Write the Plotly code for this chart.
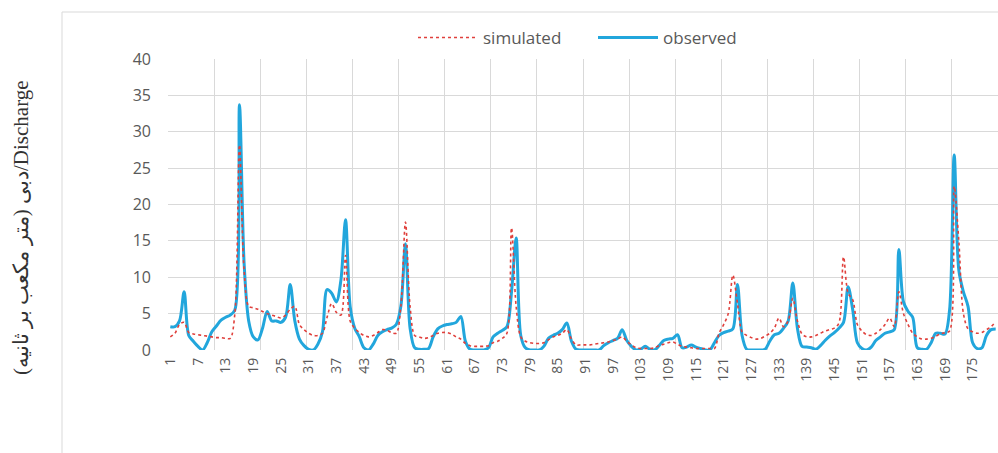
import plotly.graph_objects as go

# ---- data -------------------------------------------------------------
days = list(range(1, 181))

observed = [
    3.2, 3.2, 4.0, 8.0, 2.0, 1.2, 0.5, 0.0, 1.0, 2.5,
    3.3, 4.1, 4.5, 4.8, 5.5, 33.7, 12.0, 4.0, 1.8, 1.4,
    3.0, 5.3, 4.0, 4.0, 3.8, 4.5, 9.0, 4.0, 1.5, 0.6,
    0.1, 0.0, 0.8, 2.5, 8.3, 7.8, 6.6, 9.6, 17.9, 6.0,
    3.0, 1.8, 0.3, 0.0, 0.8, 2.0, 2.5, 2.8, 3.0, 3.5,
    6.0, 14.6, 3.0, 0.3, 0.1, 0.1, 0.2, 1.8, 2.9, 3.3,
    3.5, 3.6, 3.8, 4.6, 1.2, 0.1, 0.0, 0.0, 0.0, 0.3,
    1.8, 2.3, 2.7, 3.2, 8.0, 15.4, 2.0, 0.3, 0.0, 0.0,
    0.0, 0.5, 1.6, 2.0, 2.3, 2.8, 3.7, 1.2, 0.1, 0.0,
    0.0, 0.0, 0.0, 0.0, 0.6, 1.0, 1.3, 1.6, 2.8, 1.3,
    0.5, 0.0, 0.1, 0.5, 0.1, 0.0, 0.6, 1.3, 1.5, 1.6,
    2.1, 0.3, 0.4, 0.7, 0.4, 0.2, 0.0, 0.0, 1.0, 2.0,
    2.4, 2.6, 2.9, 9.0, 2.0, 0.1, 0.0, 0.0, 0.0, 0.1,
    1.2, 2.1, 2.3, 3.0, 4.0, 9.2, 3.0, 0.5, 0.4, 0.3,
    0.1, 0.6, 1.3, 1.9, 2.4, 3.0, 3.8, 8.7, 5.5, 1.0,
    0.2, 0.0, 0.4, 1.3, 1.8, 2.3, 2.5, 2.8, 13.8, 6.6,
    5.3, 4.5, 0.3, 0.1, 0.1, 1.0, 2.3, 2.3, 2.2, 5.5,
    26.8, 11.0, 8.0, 6.0, 1.0, 0.2, 0.3, 2.0, 2.8, 2.9,
]

simulated = [
    1.8, 2.3, 3.5, 3.8, 2.4, 2.2, 2.1, 2.0, 1.9, 1.8,
    1.7, 1.7, 1.6, 1.6, 5.0, 28.2, 11.0, 6.0, 5.8, 5.6,
    5.3, 5.0, 4.8, 4.6, 4.4, 4.8, 5.6, 6.0, 3.5, 2.8,
    2.3, 2.0, 2.0, 2.3, 4.5, 6.4, 5.2, 4.8, 13.0, 4.0,
    3.0, 2.4, 2.0, 1.8, 2.0, 2.4, 2.8, 2.7, 2.4, 2.3,
    6.0, 17.6, 6.0, 2.0, 1.8, 1.6, 1.7, 2.0, 2.3, 2.4,
    2.4, 2.2, 1.8, 1.5, 0.9, 0.6, 0.5, 0.5, 0.5, 0.6,
    1.0, 1.2, 1.6, 2.3, 16.8, 6.0, 1.8, 1.2, 1.0, 0.9,
    0.9, 1.0, 1.4, 1.8, 2.0, 2.3, 2.8, 1.5, 0.7, 0.7,
    0.7, 0.7, 0.8, 0.9, 1.0, 1.1, 1.3, 1.5, 1.8, 1.2,
    0.7, 0.3, 0.2, 0.2, 0.2, 0.3, 0.6, 0.8, 1.0, 1.1,
    0.8, 0.5, 0.4, 0.3, 0.2, 0.2, 0.2, 0.2, 0.2, 2.3,
    3.5, 5.0, 10.3, 6.4, 2.5, 2.0, 1.7, 1.5, 1.6, 1.9,
    2.3, 3.0, 4.4, 3.2, 4.0, 7.1, 4.0, 2.2, 1.8, 1.8,
    2.0, 2.3, 2.6, 2.8, 3.0, 3.7, 12.8, 7.8, 6.9, 3.5,
    2.6, 2.1, 2.0, 2.3, 2.8, 3.5, 4.4, 3.2, 8.0, 5.0,
    3.5, 2.3, 1.8, 1.5, 1.5, 1.6, 1.9, 2.2, 2.4, 2.6,
    22.5, 15.0, 5.0, 2.9, 2.5, 2.3, 2.4, 2.8, 3.2, 3.9,
]

tick_values = [1, 7, 13, 19, 25, 31, 37, 43, 49, 55, 61, 67, 73, 79, 85,
               91, 97, 103, 109, 115, 121, 127, 133, 139, 145, 151, 157,
               163, 169, 175]
tick_labels = [str(v) for v in tick_values]

y_title = "دبی (متر مکعب بر ثانیه)/Discharge"

# ---- figure -----------------------------------------------------------
W, H = 998, 453
L, R, T, B = 168, 0, 59, 103
pw = W - L - R
ph = H - T - B

fig = go.Figure()
fig.add_trace(go.Scatter(
    x=days, y=observed, name="observed", mode="lines",
    line=dict(color="#22A6DC", width=3, shape="spline", smoothing=0.9),
    legendrank=2,
))
fig.add_trace(go.Scatter(
    x=days, y=simulated, name="simulated", mode="lines",
    line=dict(color="#E0403C", width=1.6, dash="dot", shape="spline", smoothing=0.9),
    legendrank=1,
))

grid = "#d9d9d9"
fig.update_layout(
    width=W, height=H,
    margin=dict(l=L, r=R, t=T, b=B, pad=0),
    paper_bgcolor="white", plot_bgcolor="white",
    font=dict(family="Open Sans, sans-serif", color="#595959"),
    showlegend=True,
    legend=dict(
        orientation="h", x=(413 - L) / pw, xanchor="left",
        y=(ph + T - 38) / ph, yanchor="middle",
        font=dict(size=17, color="#595959"),
        bgcolor="rgba(0,0,0,0)", traceorder="normal",
        itemwidth=60, entrywidth=105,
    ),
    xaxis=dict(
        range=[0.5, 180.5],
        tickmode="array", tickvals=tick_values, ticktext=tick_labels,
        tickangle=-90, tickfont=dict(size=14, color="#595959"),
        showgrid=False, zeroline=False, showline=False,
        ticks="", ticklabelstandoff=4,
        minor=dict(tickmode="linear", tick0=0.5, dtick=10,
                   showgrid=True, gridcolor=grid, gridwidth=1, ticks=""),
    ),
    yaxis=dict(
        range=[0, 40], tickmode="linear", tick0=0, dtick=5,
        tickfont=dict(size=16, color="#595959"),
        showgrid=True, gridcolor=grid, gridwidth=1,
        zeroline=False, showline=False, ticks="", ticklabelstandoff=16,
    ),
)

# chart-area border (top and left edges)
fig.add_shape(type="line", xref="paper", yref="paper",
              x0=(62 - L) / pw, x1=1.02, y0=(ph + T - 12) / ph, y1=(ph + T - 12) / ph,
              line=dict(color="#d9d9d9", width=1))
fig.add_shape(type="line", xref="paper", yref="paper",
              x0=(62 - L) / pw, x1=(62 - L) / pw, y0=(ph + T - 12) / ph, y1=-0.5,
              line=dict(color="#d9d9d9", width=1))

fig.add_annotation(
    text=y_title, xref="paper", yref="paper",
    x=(22 - L) / pw, y=(ph + T - 228) / ph,
    xanchor="center", yanchor="middle", textangle=-90, showarrow=False,
    font=dict(family="Liberation Serif, DejaVu Serif, serif", size=21, color="#333333"),
)

fig.write_html("out.html", config={"displayModeBar": False},
               post_script="document.body.style.margin='0';")
